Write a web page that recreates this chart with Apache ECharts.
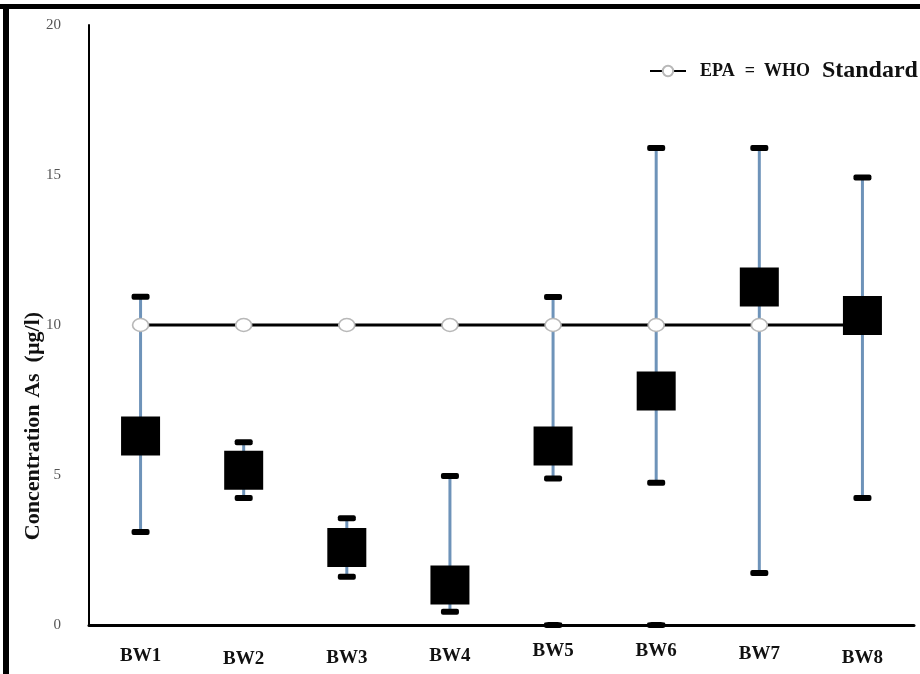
<!DOCTYPE html>
<html>
<head>
<meta charset="utf-8">
<script src="https://cdn.jsdelivr.net/npm/echarts@6/dist/echarts.min.js"></script>
<style>
html,body{margin:0;padding:0;background:#fff;}
#c{width:920px;height:674px;}
</style>
</head>
<body>
<div id="c"></div>
<script>
// ---- data ----
var categories = ['BW1','BW2','BW3','BW4','BW5','BW6','BW7','BW8'];
var meanValues = [6.3, 5.16, 2.58, 1.33, 5.97, 7.8, 11.27, 10.32];
var upperValues = [10.94, 6.09, 3.56, 4.97, 10.93, 15.9, 15.9, 14.92];
var lowerValues = [3.1, 4.23, 1.61, 0.44, 4.88, 4.74, 1.73, 4.23];
var extraCapValues = [null, null, null, null, 0, 0, null, null];
var standardValues = [10, 10, 10, 10, 10, 10, 10, 10];
var yTicks = [0, 5, 10, 15, 20];

// label styling (vertical nudges of the category labels as in the original)
var labelStyleKeys = ['o5', 'o8', 'o7', 'o5', 'o0', 'o0', 'o3', 'o7'];

var SERIF = '"Liberation Serif","Times New Roman",serif';
var errColor = '#6e93b9';

var errData = categories.map(function (c, i) { return [i, lowerValues[i], upperValues[i]]; });

function labelRich() {
  var r = {};
  [0, 3, 5, 7, 8].forEach(function (o) {
    r['o' + o] = { fontFamily: SERIF, fontWeight: 'bold', fontSize: 19, color: '#111', padding: [o, 0, 0, 0] };
  });
  return r;
}

var chart = echarts.init(document.getElementById('c'));
chart.setOption({
  animation: false,
  backgroundColor: '#fff',
  grid: { left: 89, right: 6, top: 25, bottom: 49, containLabel: false },
  legend: {
    left: 644, top: 54,
    itemWidth: 36, itemHeight: 13,
    itemGap: 0,
    data: ['EPA = WHO Standard'],
    formatter: function () { return '{a|EPA}{e|=}{a|WHO}{s|Standard}'; },
    textStyle: {
      fontFamily: SERIF,
      rich: {
        a: { fontFamily: SERIF, fontWeight: 'bold', fontSize: 18, color: '#111', padding: [0, 0, 0, 9] },
        e: { fontFamily: SERIF, fontWeight: 'bold', fontSize: 18, color: '#111', padding: [0, 0, 0, 10] },
        s: { fontFamily: SERIF, fontWeight: 'bold', fontSize: 24, color: '#111', padding: [0, 0, 0, 12] }
      }
    }
  },
  xAxis: {
    type: 'category',
    data: categories,
    boundaryGap: true,
    axisLine: { show: true, lineStyle: { color: '#000', width: 3 } },
    axisTick: { show: false },
    axisLabel: {
      interval: 0,
      hideOverlap: false,
      margin: 17,
      formatter: function (v, i) { return '{' + labelStyleKeys[i] + '|' + v + '}'; },
      rich: labelRich(),
      fontFamily: SERIF, fontWeight: 'bold', fontSize: 19, color: '#111'
    },
    splitLine: { show: false }
  },
  yAxis: {
    type: 'value',
    min: yTicks[0], max: yTicks[yTicks.length - 1], interval: 5,
    axisLine: { show: true, lineStyle: { color: '#000', width: 2 } },
    axisTick: { show: false },
    splitLine: { show: false },
    axisLabel: { margin: 28, fontFamily: SERIF, fontSize: 15, color: '#555' }
  },
  graphic: [
    { type: 'rect', shape: { x: 0, y: 4, width: 920, height: 5 }, style: { fill: '#000' }, z: 100 },
    { type: 'rect', shape: { x: 3, y: 4, width: 6, height: 670 }, style: { fill: '#000' }, z: 100 },
    {
      type: 'text', x: 33, y: 426, rotation: Math.PI / 2,
      style: {
        text: '{c|Concentration}  {a|As  (µg/l)}',
        align: 'center', verticalAlign: 'middle',
        rich: {
          c: { fontFamily: SERIF, fontWeight: 'bold', fontSize: 22, fill: '#111' },
          a: { fontFamily: SERIF, fontWeight: 'bold', fontSize: 22, fill: '#111' }
        }
      }
    }
  ],
  series: [
    {
      name: 'error',
      type: 'custom',
      data: errData,
      z: 1,
      renderItem: function (params, api) {
        var x = api.value(0), lo = api.value(1), hi = api.value(2);
        var pHi = api.coord([x, hi]);
        var pLo = api.coord([x, lo]);
        return {
          type: 'group',
          children: [
            { type: 'line', shape: { x1: pHi[0], y1: pHi[1], x2: pLo[0], y2: pLo[1] }, style: { stroke: errColor, lineWidth: 3 } },
            { type: 'rect', shape: { x: pHi[0] - 9, y: pHi[1] - 3, width: 18, height: 6, r: 2 }, style: { fill: '#000' } },
            { type: 'rect', shape: { x: pLo[0] - 9, y: pLo[1] - 3, width: 18, height: 6, r: 2 }, style: { fill: '#000' } }
          ]
        };
      }
    },
    {
      name: 'cap',
      type: 'scatter',
      data: extraCapValues,
      symbol: 'roundRect',
      symbolSize: [18, 6],
      itemStyle: { color: '#000', opacity: 1 },
      z: 3
    },
    {
      name: 'EPA = WHO Standard',
      type: 'line',
      data: standardValues,
      symbol: 'circle',
      symbolSize: [16, 13],
      lineStyle: { color: '#000', width: 3 },
      itemStyle: { color: '#fff', borderColor: '#b8b8b8', borderWidth: 1.5, opacity: 1 },
      z: 4
    },
    {
      name: 'mean',
      type: 'scatter',
      data: meanValues,
      symbol: 'rect',
      symbolSize: 39,
      itemStyle: { color: '#000', opacity: 1 },
      z: 5
    }
  ]
});
</script>
</body>
</html>
